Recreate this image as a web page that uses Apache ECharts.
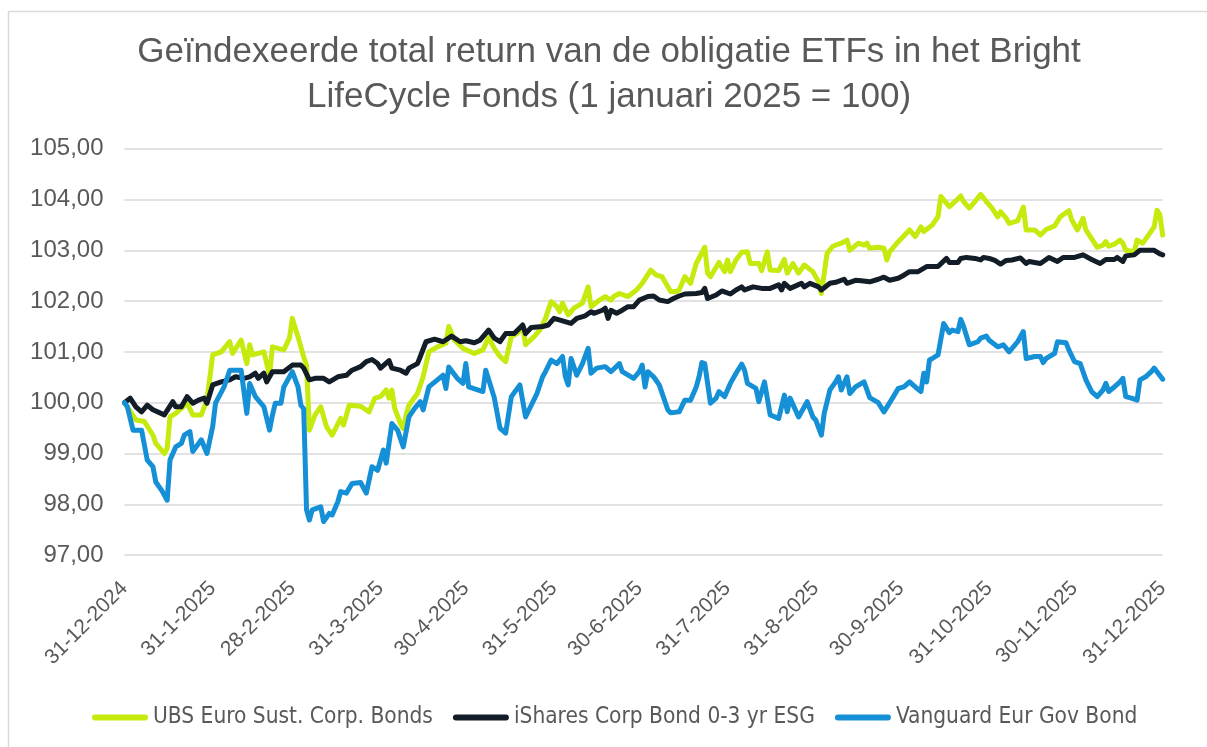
<!DOCTYPE html>
<html>
<head>
<meta charset="utf-8">
<script src="https://cdn.jsdelivr.net/npm/echarts@6/dist/echarts.min.js"></script>
<style>html,body{margin:0;padding:0;background:#fff}#c{width:1207px;height:747px}</style>
</head>
<body>
<div id="c"></div>
<script>
// Day offsets are counted from 31-12-2024
const tickLabels = ['31-12-2024','31-1-2025','28-2-2025','31-3-2025','30-4-2025','31-5-2025','30-6-2025','31-7-2025','31-8-2025','30-9-2025','31-10-2025','30-11-2025','31-12-2025'];
const seriesNames = ['UBS Euro Sust. Corp. Bonds','iShares Corp Bond 0-3 yr ESG','Vanguard Eur Gov Bond'];

const ubsDays = [0,4,7,10,11,14,15,16,18,20,22,24,27,29,31,34,35,37,38,41,43,44,45,49,51,52,56,58,59,61,63,64,65,67,69,71,73,76,77,79,83,86,88,90,92,93,94,95,97,98,99,100,103,105,107,110,113,114,116,119,123,126,128,130,132,134,136,138,140,141,144,146,148,150,152,153,154,156,158,161,163,164,167,169,171,172,174,177,180,182,185,187,189,192,194,195,197,199,201,204,205,206,209,211,212,213,215,217,219,220,223,224,226,227,230,232,233,235,237,239,242,244,245,247,249,252,254,255,258,260,261,262,265,267,268,269,272,276,278,280,281,284,286,287,290,292,294,295,297,299,301,303,305,307,308,310,311,314,316,317,320,322,324,327,329,332,333,335,337,338,342,344,345,346,348,350,351,352,355,356,358,360,362,363,364,365];
const ubsValues = [100.0,99.66,99.63,99.36,99.2,99.0,99.1,99.72,99.79,99.89,99.99,99.76,99.76,100.05,100.94,101.0,101.07,101.2,100.97,101.23,100.77,101.14,100.94,101.0,100.54,101.1,101.04,101.27,101.66,101.3,100.9,100.74,99.46,99.76,99.92,99.53,99.36,99.69,99.56,99.95,99.93,99.82,100.09,100.12,100.25,100.09,100.25,99.89,99.59,99.49,99.76,99.95,100.18,100.51,101.0,101.1,101.17,101.5,101.23,101.07,100.97,101.04,101.28,101.07,100.91,100.81,101.3,101.36,101.5,101.14,101.3,101.43,101.66,101.99,101.89,101.79,101.96,101.73,101.86,101.96,102.28,101.89,102.02,102.09,102.02,102.09,102.15,102.09,102.22,102.35,102.61,102.51,102.48,102.19,102.19,102.22,102.48,102.35,102.74,103.06,102.55,102.48,102.76,102.58,102.81,102.58,102.81,102.96,102.97,102.74,102.74,102.6,102.97,102.61,102.6,102.82,102.55,102.74,102.55,102.71,102.58,102.38,102.15,102.94,103.08,103.14,103.2,103.0,103.14,103.1,103.14,103.04,103.06,103.04,102.81,102.97,103.17,103.4,103.27,103.46,103.37,103.5,103.66,104.06,103.86,103.96,104.07,103.96,103.83,103.96,104.1,103.96,103.83,103.66,103.76,103.63,103.53,103.58,103.85,103.4,103.4,103.3,103.41,103.48,103.66,103.78,103.6,103.4,103.63,103.4,103.06,103.1,103.17,103.08,103.12,103.2,103.14,103.0,102.97,103.2,103.14,103.3,103.46,103.79,103.7,103.3];

const isharesDays = [0,2,4,6,8,10,14,17,18,20,22,24,26,28,29,31,34,37,39,42,44,46,47,49,50,52,56,59,62,63,65,67,70,72,75,78,80,83,85,87,89,90,93,94,97,99,100,103,104,106,109,112,115,118,120,123,125,128,130,132,134,137,140,141,143,147,149,151,154,157,159,162,164,165,168,169,170,171,173,175,177,179,181,184,186,188,191,193,195,197,201,203,204,205,208,210,213,215,217,218,221,224,227,230,231,232,234,236,238,239,241,244,245,248,250,253,254,257,259,262,265,267,269,272,274,276,279,282,286,289,290,293,294,296,299,301,302,304,306,308,310,312,315,317,318,322,325,328,330,334,337,340,343,345,348,349,351,352,355,357,362,364,365];
const isharesValues = [100.0,100.09,99.92,99.82,99.95,99.86,99.76,100.02,99.92,99.92,100.12,99.99,100.05,100.09,99.99,100.35,100.41,100.45,100.51,100.48,100.51,100.58,100.48,100.58,100.41,100.61,100.61,100.74,100.74,100.68,100.45,100.48,100.48,100.41,100.51,100.54,100.64,100.71,100.81,100.85,100.77,100.68,100.83,100.68,100.64,100.58,100.68,100.77,100.91,101.2,101.25,101.2,101.31,101.2,101.22,101.18,101.23,101.43,101.27,101.2,101.36,101.36,101.53,101.36,101.48,101.5,101.53,101.66,101.61,101.56,101.66,101.71,101.79,101.76,101.82,101.86,101.66,101.82,101.76,101.82,101.89,101.89,102.02,102.09,102.1,102.02,101.99,102.05,102.1,102.14,102.15,102.17,102.25,102.05,102.12,102.2,102.14,102.22,102.28,102.22,102.28,102.25,102.25,102.32,102.22,102.35,102.25,102.3,102.35,102.28,102.35,102.28,102.22,102.35,102.37,102.43,102.35,102.41,102.4,102.38,102.43,102.47,102.41,102.45,102.51,102.58,102.58,102.68,102.68,102.84,102.76,102.76,102.84,102.86,102.84,102.81,102.86,102.84,102.8,102.73,102.8,102.81,102.85,102.74,102.78,102.74,102.86,102.78,102.86,102.86,102.91,102.82,102.74,102.82,102.82,102.86,102.78,102.89,102.91,103.0,103.0,102.93,102.91];

const vanguardDays = [0,1,3,6,8,10,11,13,15,16,18,20,21,23,24,27,29,31,32,35,37,41,43,44,46,49,51,52,53,55,56,59,61,62,63,64,65,66,69,70,72,73,75,76,78,80,83,85,87,89,91,92,94,96,98,100,102,104,105,107,110,112,113,114,117,119,120,121,126,127,130,132,134,136,139,141,143,145,147,148,150,152,154,155,156,157,159,161,163,164,166,169,171,174,175,179,181,182,183,184,186,188,191,192,195,197,199,201,202,203,204,206,208,209,211,213,215,217,218,219,222,223,225,227,230,232,233,234,237,240,242,243,245,246,248,250,251,252,254,255,257,260,262,265,267,270,272,274,276,278,280,281,282,283,284,286,288,290,291,293,294,295,297,300,301,303,304,307,309,311,314,316,317,320,322,323,324,327,328,331,332,334,336,338,340,342,344,345,346,348,350,351,352,354,356,357,359,361,362,363,365];
const vanguardValues = [100.0,99.92,99.46,99.46,98.87,98.74,98.44,98.28,98.08,98.87,99.13,99.2,99.36,99.43,99.04,99.27,99.0,99.53,99.99,100.31,100.64,100.64,99.79,100.38,100.12,99.92,99.46,99.75,99.99,99.99,100.31,100.61,100.31,99.95,99.88,97.89,97.69,97.89,97.95,97.66,97.82,97.79,98.05,98.25,98.22,98.41,98.43,98.22,98.74,98.67,99.07,98.81,99.59,99.46,99.13,99.72,99.89,100.02,99.86,100.31,100.45,100.54,100.28,100.7,100.48,100.38,100.77,100.31,100.22,100.64,100.1,99.5,99.4,100.12,100.35,99.72,99.95,100.18,100.51,100.61,100.84,100.77,100.91,100.51,100.35,100.87,100.54,100.77,101.07,100.58,100.68,100.71,100.61,100.77,100.61,100.48,100.61,100.74,100.31,100.61,100.51,100.35,99.86,99.8,99.82,100.05,100.05,100.31,100.51,100.79,100.77,99.99,100.09,100.22,100.12,100.38,100.58,100.76,100.64,100.38,100.28,100.02,100.41,99.76,99.69,100.15,99.82,100.09,99.72,100.02,99.72,99.66,99.36,99.79,100.25,100.41,100.51,100.25,100.51,100.18,100.31,100.41,100.1,100.0,99.82,100.09,100.28,100.31,100.41,100.31,100.22,100.58,100.41,100.84,100.87,100.94,101.56,101.38,101.43,101.4,101.64,101.5,101.14,101.2,101.27,101.31,101.23,101.1,101.14,101.0,101.2,101.4,100.87,100.91,100.91,100.79,100.87,100.97,101.2,101.18,101.04,100.81,100.77,100.45,100.22,100.12,100.25,100.38,100.22,100.31,100.41,100.48,100.12,100.09,100.05,100.45,100.51,100.61,100.68,100.61,100.46];

const colors = ['#C5EA0E', '#121D28', '#1590D6'];

const DAY_MS = 86400000;
const baseTime = new Date(2024, 11, 31, 12).getTime();
function labelToDay(s) { const p = s.split('-').map(Number); return Math.round((new Date(p[2], p[1] - 1, p[0], 12).getTime() - baseTime) / DAY_MS); }
const tickDays = tickLabels.map(labelToDay);
function pairs(days, vals) { return days.map((d, i) => [d, vals[i]]); }

const labelFont = "'Liberation Sans', Arial, sans-serif";
const legendFont = "'DejaVu Sans Condensed', 'Liberation Sans', sans-serif";

const chart = echarts.init(document.getElementById('c'), null, { renderer: 'canvas' });
const lineSeries = [
  [ubsDays, ubsValues], [isharesDays, isharesValues], [vanguardDays, vanguardValues]
].map((s, i) => ({
  name: seriesNames[i],
  type: 'line',
  data: pairs(s[0], s[1]),
  symbol: 'none',
  smooth: false,
  color: colors[i],
  lineStyle: { width: 5, color: colors[i], cap: 'round', join: 'round' },
  z: 2 + i
}));

chart.setOption({
  animation: false,
  backgroundColor: '#ffffff',
  graphic: [
    { type: 'line', shape: { x1: 8, y1: 11.5, x2: 1207, y2: 11.5 }, style: { stroke: '#d9d9d9', lineWidth: 1.5 }, silent: true },
    { type: 'line', shape: { x1: 8.5, y1: 11, x2: 8.5, y2: 747 }, style: { stroke: '#d9d9d9', lineWidth: 1.5 }, silent: true },
    { type: 'text', x: 609, y: 52, style: { text: 'Geïndexeerde total return van de obligatie ETFs in het Bright', fill: '#595959', font: "35px 'Liberation Sans', Arial, sans-serif", align: 'center', verticalAlign: 'middle' }, silent: true },
    { type: 'text', x: 609, y: 97, style: { text: 'LifeCycle Fonds (1 januari 2025 = 100)', fill: '#595959', font: "35px 'Liberation Sans', Arial, sans-serif", align: 'center', verticalAlign: 'middle' }, silent: true }
  ],
  grid: { left: 124.5, right: 44.3, top: 148.7, bottom: 191.9, containLabel: false },
  legend: {
    data: seriesNames,
    orient: 'horizontal',
    left: 92, top: 706, width: 1110,
    padding: 0,
    itemWidth: 56, itemHeight: 6, itemGap: 20,
    icon: 'path://M3,0 L53,0 A3,3 0 0 1 53,6 L3,6 A3,3 0 0 1 3,0 Z',
    textStyle: { fontFamily: legendFont, fontSize: 22.5, color: '#595959' }
  },
  xAxis: {
    type: 'value',
    min: 0,
    max: 365,
    axisLine: { show: false },
    axisTick: { show: false },
    splitLine: { show: false },
    axisLabel: {
      customValues: tickDays,
      rotate: 45,
      margin: 30,
      fontFamily: labelFont,
      fontSize: 21,
      color: '#595959',
      formatter: function (v) {
        const i = tickDays.indexOf(Math.round(v));
        return i >= 0 ? tickLabels[i] : '';
      }
    }
  },
  yAxis: {
    type: 'value',
    min: 97, max: 105, interval: 1,
    axisLine: { show: false },
    axisTick: { show: false },
    splitLine: { lineStyle: { color: '#d9d9d9', width: 1.5 } },
    axisLabel: {
      margin: 21,
      fontFamily: labelFont,
      fontSize: 24,
      color: '#595959',
      formatter: function (v) { return v.toFixed(2).replace('.', ','); }
    }
  },
  series: lineSeries
});
</script>
</body>
</html>
